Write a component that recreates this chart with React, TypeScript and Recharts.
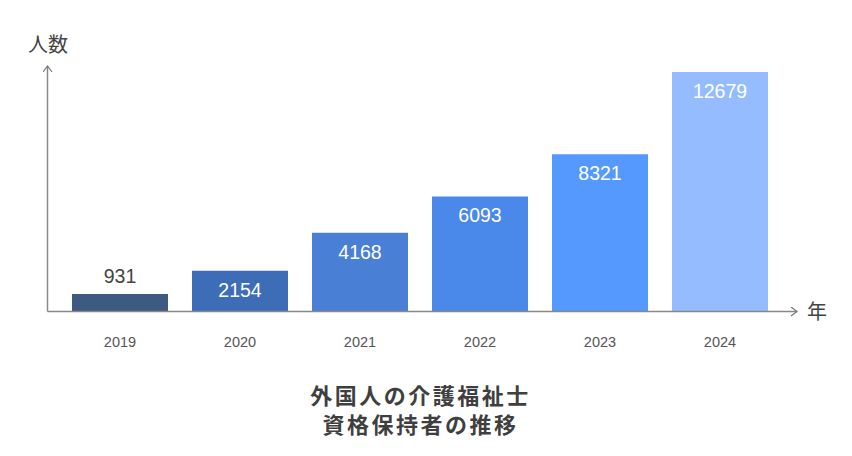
import React from 'react';
import { BarChart, Bar, XAxis, YAxis, Cell, LabelList } from 'recharts';

const years = ['2019', '2020', '2021', '2022', '2023', '2024'];
const counts = [931, 2154, 4168, 6093, 8321, 12679];
const colors = ['#3d5a80', '#3e6db8', '#4a7fd6', '#4a88ea', '#5599fe', '#94bcff'];
const titleLines = ['外国人の介護福祉士', '資格保持者の推移'];
const yLabel = '人数';
const xLabel = '年';

const data = years.map((y, i) => ({ year: y, value: counts[i] }));

const NUM_FONT = '"Liberation Sans", Arial, sans-serif';
const JP_FONT = '"Noto Sans CJK JP", "Noto Sans", sans-serif';

const ValueLabel = (props: any) => {
  const { x, y, width, height, value } = props;
  const cx = x + width / 2;
  if (height < 30) {
    return (
      <text x={cx} y={y - 11} textAnchor="middle" fill="#444" fontSize={19.5} fontFamily={NUM_FONT}>
        {value}
      </text>
    );
  }
  return (
    <text x={cx} y={y + 26} textAnchor="middle" fill="#ffffff" fontSize={19.5} fontFamily={NUM_FONT}>
      {value}
    </text>
  );
};

export default function App() {
  return (
    <div style={{ position: 'absolute', left: 0, top: 0, width: 852, height: 456, background: '#fff' }}>
      <BarChart
        width={852}
        height={456}
        data={data}
        margin={{ top: 66, right: 55, bottom: 114.5, left: 46.5 }}
        barCategoryGap={24}
      >
        <defs>
          <marker id="arrowHead" markerWidth="10" markerHeight="12" refX="7" refY="5" orient="auto-start-reverse" markerUnits="userSpaceOnUse">
            <path d="M1,0.5 L7,5 L1,9.5" fill="none" stroke="#777" strokeWidth={1.2} />
          </marker>
        </defs>
        <XAxis
          dataKey="year"
          height={30}
          padding={{ left: 12.5, right: 17 }}
          tickLine={false}
          axisLine={{ stroke: '#888', strokeWidth: 1.5, markerEnd: 'url(#arrowHead)' }}
          tick={{ fill: '#555', fontSize: 14.5, fontFamily: NUM_FONT }}
          tickMargin={19}
        />
        <YAxis
          width={1}
          domain={[0, 13000]}
          tick={false}
          tickLine={false}
          axisLine={{ stroke: '#888', strokeWidth: 1.5, markerStart: 'url(#arrowHead)' }}
        />
        <Bar dataKey="value" isAnimationActive={false} barSize={96}>
          {data.map((d, i) => (
            <Cell key={d.year} fill={colors[i]} />
          ))}
          <LabelList dataKey="value" content={ValueLabel} />
        </Bar>
        <text x={28} y={52} fill="#444" fontSize={20} fontFamily={JP_FONT}>{yLabel}</text>
        <text x={807} y={319} fill="#444" fontSize={20} fontFamily={JP_FONT}>{xLabel}</text>
        <text x={420.5} y={404} textAnchor="middle" fill="#3f3f3f" fontSize={22} letterSpacing={2.5} fontWeight="bold" fontFamily={JP_FONT}>{titleLines[0]}</text>
        <text x={420.5} y={433} textAnchor="middle" fill="#3f3f3f" fontSize={22} letterSpacing={2.5} fontWeight="bold" fontFamily={JP_FONT}>{titleLines[1]}</text>
      </BarChart>
    </div>
  );
}
